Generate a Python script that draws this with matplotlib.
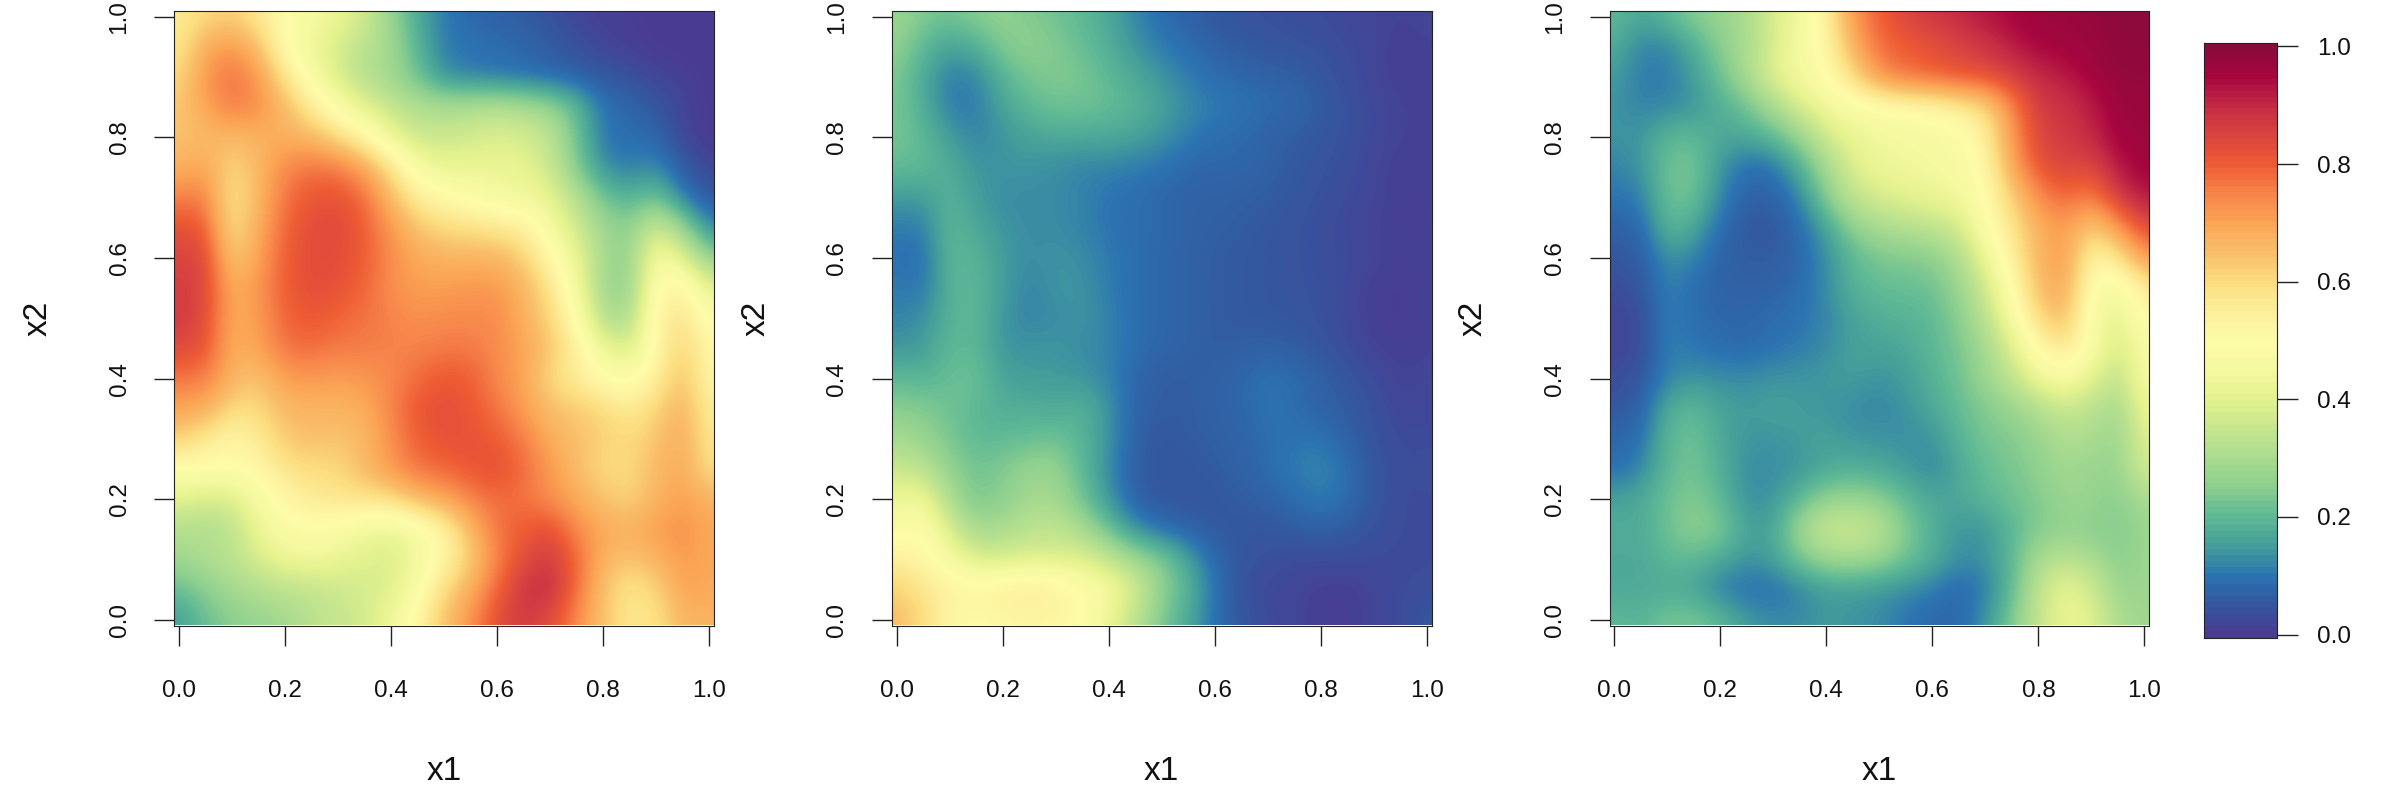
import matplotlib
matplotlib.use("Agg")
import matplotlib.pyplot as plt
from matplotlib.colors import LinearSegmentedColormap
import numpy as np

plt.rcParams['font.family'] = ['Liberation Sans', 'DejaVu Sans']

# rows run from x2 = 1.0 down to x2 = 0.0, columns from x1 = 0.0 to x1 = 1.0 (step 0.05)
prob_left = [
 [.56,.60,.62,.57,.50,.46,.42,.37,.27,.17,.11,.08,.07,.06,.04,.02,.01,.01,.00,.00,.00],
 [.57,.68,.72,.65,.50,.43,.38,.33,.29,.19,.11,.10,.09,.08,.06,.04,.02,.01,.00,.00,.00],
 [.60,.72,.78,.72,.58,.47,.38,.32,.28,.22,.13,.11,.10,.09,.08,.07,.05,.04,.02,.01,.00],
 [.63,.70,.76,.74,.66,.56,.47,.40,.35,.31,.30,.31,.32,.30,.27,.20,.10,.08,.05,.02,.00],
 [.64,.66,.66,.67,.68,.66,.60,.52,.42,.36,.36,.37,.39,.38,.34,.22,.10,.09,.08,.02,.00],
 [.67,.70,.60,.66,.74,.77,.76,.70,.58,.46,.41,.42,.42,.41,.36,.24,.13,.11,.13,.06,.02],
 [.75,.76,.57,.66,.77,.81,.82,.78,.66,.55,.51,.48,.45,.44,.41,.32,.22,.18,.22,.11,.05],
 [.82,.81,.58,.68,.79,.83,.84,.80,.72,.64,.60,.59,.57,.55,.45,.37,.28,.25,.37,.27,.12],
 [.85,.85,.62,.70,.80,.83,.83,.80,.74,.69,.67,.67,.67,.62,.52,.42,.29,.26,.47,.40,.25],
 [.86,.85,.68,.72,.80,.83,.82,.79,.73,.71,.71,.72,.72,.67,.58,.45,.28,.26,.51,.54,.40],
 [.87,.84,.68,.71,.79,.81,.79,.77,.75,.73,.74,.74,.74,.68,.61,.49,.31,.30,.53,.59,.47],
 [.84,.82,.68,.70,.77,.78,.76,.76,.75,.75,.76,.76,.74,.70,.64,.55,.42,.38,.52,.62,.52],
 [.77,.76,.67,.64,.71,.72,.71,.72,.74,.78,.81,.80,.74,.70,.60,.55,.50,.47,.55,.65,.52],
 [.70,.69,.60,.60,.66,.67,.67,.68,.75,.81,.83,.81,.77,.71,.65,.63,.60,.56,.61,.68,.55],
 [.62,.57,.52,.56,.63,.65,.64,.66,.73,.80,.82,.82,.80,.76,.68,.65,.62,.60,.64,.69,.57],
 [.50,.50,.50,.52,.58,.60,.60,.66,.72,.77,.79,.81,.83,.78,.72,.65,.60,.60,.66,.69,.59],
 [.40,.38,.38,.46,.52,.56,.58,.58,.60,.66,.70,.75,.78,.77,.73,.69,.64,.61,.67,.71,.67],
 [.32,.31,.33,.42,.48,.49,.48,.44,.42,.46,.53,.66,.77,.80,.83,.74,.69,.68,.71,.73,.69],
 [.28,.31,.33,.38,.42,.44,.42,.39,.38,.44,.52,.62,.75,.83,.87,.79,.67,.64,.67,.72,.69],
 [.21,.25,.29,.31,.34,.34,.36,.38,.39,.47,.60,.68,.79,.88,.90,.78,.64,.57,.61,.70,.69],
 [.15,.21,.25,.27,.28,.33,.35,.37,.43,.53,.64,.73,.83,.87,.83,.74,.64,.57,.58,.67,.67],
]

prob_middle = [
 [.28,.24,.22,.25,.26,.24,.22,.20,.17,.12,.09,.07,.05,.045,.04,.035,.03,.025,.02,.015,.02],
 [.26,.20,.16,.18,.24,.26,.24,.21,.18,.14,.11,.09,.07,.055,.05,.045,.04,.03,.02,.01,.015],
 [.24,.17,.11,.12,.19,.23,.24,.23,.20,.17,.14,.11,.09,.08,.07,.065,.05,.035,.02,.01,.015],
 [.23,.18,.11,.11,.16,.20,.22,.22,.21,.19,.16,.13,.11,.10,.09,.08,.06,.04,.025,.015,.015],
 [.23,.20,.15,.12,.14,.16,.17,.17,.17,.16,.14,.11,.09,.085,.07,.06,.05,.04,.025,.015,.015],
 [.21,.20,.18,.14,.14,.14,.13,.12,.12,.11,.10,.08,.08,.08,.07,.055,.045,.035,.02,.01,.015],
 [.15,.15,.19,.15,.13,.13,.13,.12,.10,.09,.08,.07,.07,.065,.06,.05,.04,.03,.02,.01,.012],
 [.11,.11,.20,.17,.14,.13,.13,.12,.10,.09,.085,.07,.065,.06,.05,.045,.035,.025,.015,.01,.012],
 [.10,.09,.20,.19,.15,.13,.14,.13,.11,.09,.08,.07,.06,.055,.05,.045,.035,.03,.02,.01,.015],
 [.11,.10,.19,.20,.15,.12,.14,.14,.11,.09,.08,.07,.06,.055,.05,.045,.04,.025,.01,.005,.015],
 [.12,.13,.19,.20,.14,.12,.13,.14,.12,.09,.08,.07,.06,.055,.05,.05,.04,.025,.01,.005,.015],
 [.14,.15,.20,.20,.14,.14,.14,.13,.12,.09,.08,.07,.06,.065,.07,.06,.05,.03,.015,.01,.015],
 [.20,.19,.21,.22,.16,.15,.15,.14,.12,.08,.06,.06,.07,.08,.10,.09,.07,.05,.03,.015,.02],
 [.25,.24,.22,.20,.18,.18,.17,.19,.14,.07,.06,.06,.07,.08,.10,.09,.07,.06,.04,.02,.025],
 [.29,.27,.23,.20,.20,.21,.22,.19,.14,.07,.05,.06,.065,.075,.09,.10,.10,.07,.04,.03,.03],
 [.36,.33,.26,.22,.24,.27,.27,.20,.13,.06,.05,.05,.06,.07,.09,.11,.13,.09,.05,.03,.035],
 [.42,.44,.30,.23,.25,.29,.29,.22,.14,.07,.05,.05,.05,.06,.07,.09,.11,.09,.05,.03,.03],
 [.47,.50,.38,.29,.30,.33,.34,.30,.21,.13,.09,.07,.055,.05,.05,.06,.07,.06,.04,.03,.03],
 [.55,.52,.46,.38,.38,.39,.39,.39,.35,.28,.24,.16,.08,.05,.04,.03,.03,.03,.03,.03,.03],
 [.62,.58,.54,.53,.55,.57,.55,.50,.46,.38,.26,.19,.10,.04,.025,.02,.01,.01,.02,.03,.035],
 [.66,.60,.52,.50,.52,.52,.52,.50,.42,.33,.23,.17,.09,.05,.03,.02,.01,.01,.02,.03,.05],
]

prob_right = [
 [.20,.17,.20,.25,.27,.30,.38,.44,.55,.72,.80,.85,.88,.90,.93,.95,.97,.97,.98,.99,.99],
 [.18,.12,.12,.18,.25,.30,.38,.46,.52,.68,.78,.80,.82,.85,.88,.92,.95,.96,.97,.99,.99],
 [.15,.11,.11,.15,.22,.30,.40,.45,.50,.60,.73,.78,.80,.82,.83,.86,.90,.92,.96,.98,.98],
 [.14,.12,.12,.14,.18,.22,.30,.38,.44,.47,.49,.51,.52,.56,.60,.75,.87,.88,.92,.97,.97],
 [.14,.14,.20,.20,.17,.17,.20,.27,.37,.42,.44,.45,.46,.47,.55,.72,.85,.87,.90,.96,.97],
 [.12,.14,.22,.23,.14,.09,.10,.18,.29,.39,.43,.44,.45,.47,.52,.70,.82,.85,.84,.93,.96],
 [.10,.11,.22,.22,.12,.07,.07,.12,.25,.34,.38,.40,.42,.44,.50,.62,.74,.79,.75,.87,.93],
 [.07,.08,.20,.17,.09,.05,.05,.09,.16,.26,.30,.32,.34,.37,.49,.58,.68,.72,.62,.72,.84],
 [.05,.06,.14,.12,.07,.06,.06,.08,.13,.20,.23,.24,.25,.31,.42,.55,.67,.72,.52,.58,.72],
 [.03,.05,.12,.09,.07,.07,.07,.09,.13,.19,.21,.21,.22,.27,.37,.50,.66,.70,.48,.45,.57],
 [.02,.03,.12,.09,.08,.08,.09,.10,.12,.16,.18,.19,.20,.25,.33,.46,.61,.66,.46,.40,.52],
 [.02,.03,.12,.10,.09,.08,.10,.11,.13,.16,.16,.17,.20,.23,.29,.39,.52,.58,.47,.37,.47],
 [.03,.05,.12,.14,.13,.13,.14,.14,.15,.15,.14,.15,.19,.22,.28,.34,.43,.47,.40,.33,.47],
 [.05,.07,.18,.20,.16,.15,.16,.15,.14,.13,.12,.14,.17,.21,.24,.27,.32,.36,.33,.29,.43],
 [.08,.09,.20,.22,.17,.14,.14,.15,.16,.14,.14,.13,.14,.19,.23,.24,.27,.31,.30,.27,.40],
 [.09,.12,.20,.23,.18,.13,.13,.14,.17,.18,.17,.15,.12,.17,.21,.23,.26,.29,.27,.27,.38],
 [.16,.17,.22,.24,.20,.13,.14,.20,.26,.27,.25,.20,.17,.17,.20,.22,.24,.28,.27,.25,.30],
 [.18,.17,.22,.26,.24,.16,.16,.29,.36,.37,.33,.24,.18,.14,.14,.20,.24,.26,.25,.24,.28],
 [.17,.17,.20,.20,.17,.14,.16,.23,.28,.29,.27,.22,.18,.13,.14,.20,.30,.33,.30,.25,.28],
 [.17,.17,.17,.16,.11,.09,.09,.12,.15,.15,.14,.13,.11,.08,.11,.20,.35,.42,.37,.27,.28],
 [.20,.19,.23,.23,.20,.15,.13,.13,.15,.14,.13,.10,.08,.08,.14,.24,.35,.42,.40,.30,.28],
]

panels = [prob_left, prob_middle, prob_right]
tick_values = [0.0, 0.2, 0.4, 0.6, 0.8, 1.0]
tick_labels = ['0.0', '0.2', '0.4', '0.6', '0.8', '1.0']
x_label = 'x1'
y_label = 'x2'
colour_levels = 100
ramp_colours = ['#4A3B92', '#34589F', '#2B74B2', '#459E9A', '#5FB995', '#8CCF8F', '#ABDC90',
                '#C6E68E', '#E4F28E', '#F5F9A0', '#FEFCA8', '#FDEF9C', '#FCDD7F', '#F9BE6A',
                '#FBA655', '#F7844A', '#EE5C34', '#DA4440', '#C42A45', '#A8063F', '#8A0A3C']

W, H = 2400, 800
TICK_FS = 17.5
LABEL_FS = 24
EDGE = '#222222'
ramp = LinearSegmentedColormap.from_list('ramp', ramp_colours, N=256)


def pixel_axes(fig, left, top, right, bottom):
    return fig.add_axes([left / W, 1 - bottom / H, (right - left) / W, (bottom - top) / H])


fig = plt.figure(figsize=(W / 100, H / 100), dpi=100, facecolor='white')
panel_edges = [(174.3, 713.8), (892.0, 1431.5), (1609.6, 2149.0)]

for grid, (left, right) in zip(panels, panel_edges):
    ax = pixel_axes(fig, left, 11.2, right, 625.5)
    values = np.array(grid, dtype=float)
    ax.imshow(values, cmap=ramp, vmin=0, vmax=1, origin='upper',
              extent=(-0.025, 1.025, -0.025, 1.025), aspect='auto',
              interpolation='bicubic', interpolation_stage='data')
    ax.set_xlim(-0.0085, 1.0085)
    ax.set_ylim(-0.0095, 1.0095)
    ax.set_xticks(tick_values, tick_labels)
    ax.set_yticks(tick_values, tick_labels)
    ax.tick_params(axis='x', length=14.5, width=1.0, pad=25, labelsize=TICK_FS, color=EDGE, labelcolor='#111111')
    ax.tick_params(axis='y', length=14.5, width=1.0, pad=17, labelsize=TICK_FS, color=EDGE, labelcolor='#111111')
    for lab in ax.get_yticklabels():
        lab.set_rotation(90)
        lab.set_va('center')
    for spine in ax.spines.values():
        spine.set_linewidth(0.8)
        spine.set_color(EDGE)
    ax.set_xlabel(x_label, fontsize=LABEL_FS, color='#111111')
    ax.set_ylabel(y_label, fontsize=LABEL_FS, color='#111111')
    width = right - left
    ax.xaxis.set_label_coords(0.5, -(772 - 625.5) / 614.3, transform=ax.transAxes)
    ax.yaxis.set_label_coords(-136 / width, 0.5, transform=ax.transAxes)
    ax.xaxis.label.set_va('center')
    ax.yaxis.label.set_va('center')

cax = pixel_axes(fig, 2204, 42.9, 2277, 637.8)
levels = np.linspace(0, 1, colour_levels)[::-1].reshape(-1, 1)
cax.imshow(levels, cmap=ramp, vmin=0, vmax=1, origin='upper',
           extent=(0, 1, -0.0055, 1.006), aspect='auto', interpolation='nearest')
cax.set_xlim(0, 1)
cax.set_ylim(-0.0055, 1.006)
cax.set_xticks([])
cax.yaxis.tick_right()
cax.set_yticks(tick_values, tick_labels)
cax.tick_params(axis='y', length=15, width=1.0, pad=14, labelsize=TICK_FS, color=EDGE, labelcolor='#111111')
for spine in cax.spines.values():
    spine.set_linewidth(0.8)
    spine.set_color(EDGE)

fig.savefig('out.png', dpi=100, facecolor='white')
